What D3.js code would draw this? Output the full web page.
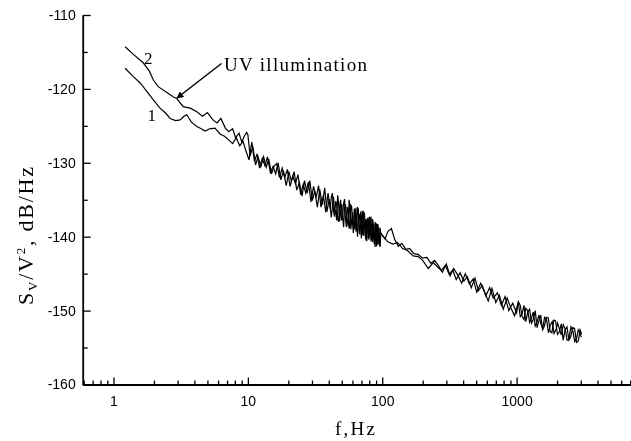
<!DOCTYPE html>
<head>
  <meta charset="utf-8">
  <script src="https://d3js.org/d3.v7.min.js"></script>
  <style>
    body { margin:0;position:fixed;top:0;right:0;bottom:0;left:0;background:#fff; }
    .tick text { font-family: "Liberation Sans", Arial, sans-serif; font-size: 14px; fill: #000; }
    .serif { font-family: "Liberation Serif", "Times New Roman", serif; fill: #000; }
  </style>
</head>

<body>
  <script>
    var width = 631,
        height = 441;

    // curve 1 : dark
    var freq1 = [1.22, 1.4, 1.58, 1.8, 1.98, 2.22, 2.45, 2.64, 2.9, 3.13, 3.35, 3.51, 3.8, 4.17, 4.5, 4.8, 5.2, 5.7, 6.2, 6.7, 7.2, 7.7, 8.2, 8.7, 9.2, 9.6,
      10.2, 10.7, 11.2, 11.7, 12.2, 12.8, 13.4, 14.0, 14.7, 15.4, 16.1, 16.8, 17.6, 18.4, 19.3, 20.2, 21.1, 22.1, 23.1, 24.2, 25.3, 26.4, 27.6, 28.9,
      30.2, 31.5, 32.9, 34.3, 35.8, 37.3, 38.8, 40.3,
      41.8, 42.6, 43.4, 44.2, 45.0, 45.8, 46.6, 47.4, 48.2, 49.0, 49.9, 50.7, 51.6, 52.4, 53.3, 54.1, 55.0, 55.9, 56.7, 57.5, 58.4, 59.2, 60.1, 61.0,
      61.9, 62.8, 63.7, 64.6, 65.5, 66.4, 67.3, 68.2, 69.1, 70.0, 71.0, 71.9, 72.9, 73.8, 74.8, 75.7, 76.7, 77.6, 78.6, 79.5, 80.5, 81.4, 82.4, 83.4,
      84.4, 85.4, 86.4, 87.4, 88.4, 89.4, 90.4, 91.4, 92.4, 93.4, 94.4, 95.4, 96.4, 97.4, 98.4,
      102, 110, 120, 130, 142, 155, 170, 185, 200, 220, 240, 255, 275, 295, 315, 335, 355, 380, 405, 430, 460, 490, 520, 555, 590, 630, 670, 720,
      770, 820, 875, 935,
      1000, 1030, 1065, 1100, 1135, 1170, 1210, 1250, 1290, 1330, 1375, 1420, 1465, 1515, 1565, 1615, 1670, 1725, 1780, 1840, 1900, 1960, 2020, 2085,
      2150, 2225, 2300, 2375, 2450, 2535, 2620, 2705, 2790, 2875, 2960, 3030];
    var psd1 = [-117.2, -118.3, -119.2, -120.5, -121.5, -122.6, -123.3, -124.0, -124.3, -124.2, -123.7, -123.5, -124.5, -125.1, -125.4, -125.7, -125.4, -125.3, -126.1, -126.4, -126.9, -127.4, -126.6, -127.7, -127.1, -128.2,
      -129.6, -127.2, -129.8, -128.8, -130.7, -129.4, -130.4, -129.2, -131.3, -130.5, -131.5, -130.0, -132.3, -131.1, -133.1, -131.2, -132.5, -131.2, -133.7, -132.7, -134.5, -132.4, -134.1, -132.4,
      -135.1, -133.8, -136.0, -133.6, -135.7, -133.4, -136.6, -134.9,
      -137.4, -135.9, -134.6, -136.9, -136.4, -137.8, -134.4, -135.7, -137.9, -136.6, -135.6, -137.3, -138.7, -136.1, -135.6, -137.0, -137.9, -138.6, -135.0, -136.4, -139.0, -137.8, -136.7, -138.2,
      -139.0, -137.3, -136.1, -138.4, -140.0, -138.0, -136.9, -137.7, -138.8, -140.2, -136.5, -137.9, -139.9, -138.4, -137.6, -139.1, -140.6, -138.3, -137.4, -139.0, -140.1, -138.6, -137.3, -139.4,
      -140.7, -138.9, -138.3, -139.6, -141.4, -139.2, -138.2, -140.3, -141.0, -139.0, -138.8, -140.6, -141.4, -139.8, -139.6,
      -140.0, -140.7, -141.0, -140.8, -141.6, -141.9, -142.6, -142.7, -143.2, -144.3, -143.5, -144.0, -144.6, -143.9, -145.1, -144.5, -145.8, -144.9, -146.0, -145.4, -146.9, -145.6, -147.3, -146.6, -148.0, -146.9, -148.3, -147.6,
      -149.3, -148.1, -150.0, -149.0,
      -150.3, -148.8, -149.3, -150.8, -151.2, -149.7, -150.0, -151.6, -151.0, -150.2, -152.1, -151.5, -150.6, -151.8, -152.4, -150.9, -151.2, -153.0, -152.0, -151.5, -153.1, -152.6, -151.7, -152.5,
      -153.3, -151.9, -152.5, -154.0, -153.9, -152.2, -152.7, -154.2, -153.8, -152.6, -153.0, -153.6];

    // curve 2 : UV illumination
    var freq2 = [1.22, 1.4, 1.67, 1.85, 1.98, 2.15, 2.5, 2.79, 2.96, 3.3, 3.72, 4.17, 4.6, 5.0, 5.5, 5.9, 6.3, 6.8, 7.2, 7.7, 8.1, 8.6, 9.0, 9.4, 9.8,
      10.0, 10.4, 10.9, 11.4, 11.9, 12.5, 13.1, 13.7, 14.3, 15.0, 15.7, 16.4, 17.2, 18.0, 18.8, 19.7, 20.6, 21.6, 22.6, 23.6, 24.7, 25.8, 27.0, 28.2,
      29.5, 30.8, 32.2, 33.6, 35.0, 36.5, 38.0, 39.5,
      41.0, 41.8, 42.6, 43.4, 44.2, 45.0, 45.8, 46.6, 47.4, 48.2, 49.0, 49.8, 50.7, 51.5, 52.4, 53.2, 54.1, 54.9, 55.8, 56.6, 57.5, 58.3, 59.2, 60.1,
      61.0, 61.9, 62.8, 63.7, 64.6, 65.5, 66.4, 67.3, 68.2, 69.1, 70.0, 70.9, 71.9, 72.8, 73.8, 74.7, 75.7, 76.6, 77.6, 78.5, 79.5, 80.4, 81.4, 82.4,
      83.4, 84.4, 85.4, 86.4, 87.4, 88.4, 89.4, 90.4, 91.4, 92.4, 93.4, 94.4, 95.4, 96.4, 97.4,
      100, 105, 110, 117, 124, 132, 140, 150, 160, 172, 185, 200, 215, 230, 245, 262, 280, 300, 320, 340, 365, 390, 415, 445, 475, 505, 540, 575,
      615, 655, 700, 745, 795, 850, 905, 965,
      1030, 1065, 1100, 1135, 1170, 1210, 1250, 1290, 1330, 1375, 1420, 1465, 1510, 1560, 1610, 1665, 1720, 1775, 1830, 1890, 1950, 2015, 2080, 2150,
      2220, 2295, 2370, 2450, 2530, 2615, 2700, 2790, 2880, 2965, 3050];
    var psd2 = [-114.3, -115.3, -116.5, -117.6, -118.8, -119.7, -120.5, -121.1, -121.3, -122.4, -122.6, -123.1, -123.7, -123.2, -124.2, -124.6, -124.0, -125.3, -125.8, -125.4, -126.6, -126.0, -127.2, -126.4, -125.9,
      -126.2, -129.1, -127.8, -130.3, -129.2, -130.5, -129.2, -130.6, -129.5, -131.5, -130.4, -130.1, -132.0, -130.7, -132.0, -130.9, -133.2, -131.8, -132.8, -131.6, -134.3, -132.9, -134.1, -132.6,
      -135.3, -133.2, -134.7, -133.1, -136.0, -134.4, -136.7, -134.1,
      -136.2, -134.6, -134.1, -136.5, -137.3, -135.2, -135.6, -137.6, -138.0, -135.9, -135.0, -137.8, -137.2, -135.6, -134.9, -137.4, -138.7, -136.0, -136.3, -138.9, -138.5, -135.7, -135.9, -138.1,
      -139.5, -136.2, -137.0, -139.3, -138.9, -136.0, -136.3, -139.1, -139.7, -136.6, -137.2, -139.8, -138.9, -136.7, -136.9, -139.6, -140.5, -137.8, -137.5, -140.2, -140.3, -137.3, -137.5, -140.6,
      -140.1, -137.6, -137.9, -140.4, -141.0, -138.0, -138.5, -141.3, -141.1, -138.3, -138.6, -141.0, -141.1, -138.8, -139.5,
      -139.8, -140.3, -139.3, -138.9, -140.4, -141.3, -140.9, -141.7, -141.6, -142.3, -142.4, -142.9, -142.8, -143.6, -143.2, -143.9, -144.8, -143.7, -145.3, -144.3, -145.2, -146.3, -145.0, -146.4, -145.7, -147.5, -146.3, -147.4,
      -148.7, -147.0, -148.9, -147.9, -149.8, -148.3, -149.6, -150.7,
      -148.9, -150.8, -150.4, -149.3, -151.5, -150.2, -149.8, -151.7, -151.2, -150.0, -152.3, -151.4, -150.6, -152.6, -152.1, -150.9, -151.0, -152.8, -153.0, -151.3, -151.4, -153.2, -152.9, -151.8,
      -154.0, -152.6, -152.2, -154.0, -153.5, -152.3, -152.4, -154.3, -154.1, -152.6, -153.2];

    var yMajor = [-160, -150, -140, -130, -120, -110];
    var yMinor = [-155, -145, -135, -125, -115];
    var xMajor = [1, 10, 100, 1000];
    var xMinor = [0.6, 0.7, 0.8, 0.9, 2, 3, 4, 5, 6, 7, 8, 9, 20, 30, 40, 50, 60, 70, 80, 90,
                  200, 300, 400, 500, 600, 700, 800, 900, 2000, 3000, 4000, 5000, 6000, 7000];

    var svg = d3.select("body")
      .append("svg")
      .attr("width", width)
      .attr("height", height);

    var x = d3.scaleLog().domain([0.59, 7100]).range([82.7, 631]);
    var y = d3.scaleLinear().domain([-160, -110]).range([384.5, 15]);

    // minor ticks first
    svg.append("g")
      .attr("transform", "translate(0,384.5)")
      .call(d3.axisBottom(x).tickValues(xMinor).tickSize(-4).tickSizeOuter(0).tickFormat(""))
      .call(function(g) { g.select(".domain").remove(); });
    svg.append("g")
      .attr("transform", "translate(82.7,0)")
      .call(d3.axisLeft(y).tickValues(yMinor).tickSize(-5).tickSizeOuter(0).tickFormat(""))
      .call(function(g) { g.select(".domain").remove(); });

    svg.append("g")
      .attr("transform", "translate(0,384.5)")
      .call(d3.axisBottom(x).tickValues(xMajor).tickSize(-7).tickSizeOuter(0).tickPadding(12)
        .tickFormat(function(d) { return String(d); }));
    svg.append("g")
      .attr("transform", "translate(82.7,0)")
      .call(d3.axisLeft(y).tickValues(yMajor).tickSize(-8).tickSizeOuter(0).tickPadding(7)
        .tickFormat(function(d) { return String(d); }));   // plain hyphen, not a minus sign

    svg.selectAll(".domain").attr("stroke-width", 1.8).attr("stroke", "#000");
    svg.selectAll(".tick line").attr("stroke-width", 1.3).attr("stroke", "#000");

    var line = d3.line()
      .x(function(d) { return x(d[0]); })
      .y(function(d) { return y(d[1]); });

    var data1 = freq1.map(function(f, i) { return [f, psd1[i]]; });
    var data2 = freq2.map(function(f, i) { return [f, psd2[i]]; });

    svg.append("path").datum(data1)
      .attr("d", line).attr("fill", "none").attr("stroke", "#000").attr("stroke-width", 1.2);
    svg.append("path").datum(data2)
      .attr("d", line).attr("fill", "none").attr("stroke", "#000").attr("stroke-width", 1.2);

    // curve labels
    svg.append("text").attr("class", "serif").attr("x", 148.3).attr("y", 58.3).attr("dy", "0.35em")
      .attr("text-anchor", "middle").style("font-size", "17px").text("2");
    svg.append("text").attr("class", "serif").attr("x", 151.7).attr("y", 115).attr("dy", "0.35em")
      .attr("text-anchor", "middle").style("font-size", "17px").text("1");

    // annotation + arrow
    svg.append("defs").append("marker")
      .attr("id", "head").attr("viewBox", "0 0 10 10").attr("refX", 9).attr("refY", 5)
      .attr("markerWidth", 9).attr("markerHeight", 7).attr("markerUnits", "userSpaceOnUse")
      .attr("orient", "auto")
      .append("path").attr("d", "M0,0 L10,5 L0,10 z").attr("fill", "#000");
    svg.append("line")
      .attr("x1", 221.5).attr("y1", 63.5).attr("x2", 177).attr("y2", 98)
      .attr("stroke", "#000").attr("stroke-width", 1.5).attr("marker-end", "url(#head)");
    svg.append("text").attr("class", "serif").attr("x", 224).attr("y", 64).attr("dy", "0.35em")
      .attr("textLength", 143).attr("lengthAdjust", "spacing")
      .style("font-size", "19px").text("UV illumination");

    // axis titles
    svg.append("text").attr("class", "serif").attr("x", 355).attr("y", 428).attr("dy", "0.35em")
      .attr("text-anchor", "middle").attr("textLength", 40).attr("lengthAdjust", "spacing")
      .style("font-size", "19px").text("f,Hz");

    var yt = svg.append("text").attr("class", "serif")
      .attr("transform", "translate(25,236) rotate(-90)")
      .attr("text-anchor", "middle").attr("dy", "0.35em")
      .attr("textLength", 138).attr("lengthAdjust", "spacing")
      .style("font-size", "22px");
    yt.append("tspan").text("S");
    yt.append("tspan").attr("dy", 4).style("font-size", "13px").text("V");
    yt.append("tspan").attr("dy", -4).text("/V");
    yt.append("tspan").attr("dy", -8).style("font-size", "13px").text("2");
    yt.append("tspan").attr("dy", 8).text(", dB/Hz");
  </script>
</body>
